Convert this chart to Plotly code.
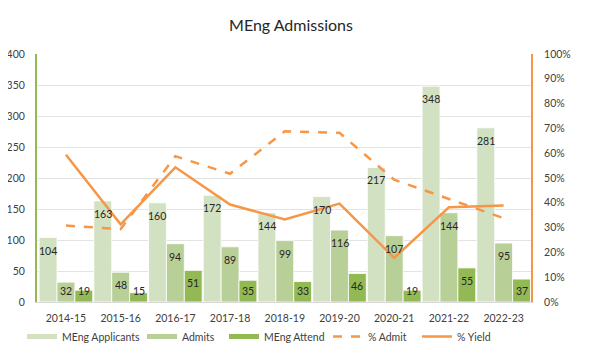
import plotly.graph_objects as go

years = ["2014-15", "2015-16", "2016-17", "2017-18", "2018-19",
         "2019-20", "2020-21", "2021-22", "2022-23"]
applicants = [104, 163, 160, 172, 144, 170, 217, 348, 281]
admits = [32, 48, 94, 89, 99, 116, 107, 144, 95]
attend = [19, 15, 51, 35, 33, 46, 19, 55, 37]
pct_admit = [30.8, 29.4, 58.8, 51.7, 68.8, 68.2, 49.3, 41.4, 33.8]
pct_yield = [59.4, 31.3, 54.3, 39.3, 33.3, 39.7, 17.8, 38.2, 38.9]

FONT = "Lato, 'Open Sans', sans-serif"
TXT = "#404040"
ORANGE = "#f79646"
COLS = ["#d3e1c3", "#b9cf98", "#93b954"]

# page has an 8px body margin, so the figure is drawn 8px smaller
W, H = 586, 347
ML, MR, MT, MB = 29, 63, 46, 53
BARGAP = 0.02
plot_w = W - ML - MR
cat_w = plot_w / len(years)
bar_w = cat_w * (1 - BARGAP) / 3

fig = go.Figure()
series = [("MEng Applicants", applicants), ("Admits", admits), ("MEng Attend", attend)]
for (name, vals), col in zip(series, COLS):
    fig.add_trace(go.Bar(x=years, y=vals, name=name, showlegend=False,
                         marker=dict(color=col, line=dict(color="white", width=0.8))))

fig.add_trace(go.Scatter(x=years, y=pct_admit, name="% Admit", yaxis="y2", mode="lines",
                         showlegend=False, line=dict(color=ORANGE, width=2.5, dash="dash")))
fig.add_trace(go.Scatter(x=years, y=pct_yield, name="% Yield", yaxis="y2", mode="lines",
                         showlegend=False, line=dict(color=ORANGE, width=2.5)))

# bar value labels (inside end, as in the original)
for k, ((name, vals), col) in enumerate(zip(series, COLS)):
    for yr, v in zip(years, vals):
        fig.add_annotation(x=yr, y=max(v, 38), xref="x", yref="y", text=str(v),
                           showarrow=False, yanchor="top", yshift=-5,
                           xshift=(k - 1) * bar_w,
                           font=dict(size=10.5, color="#262626", family=FONT))

# legend entries, each in its own legend so they can be spaced like the original
legend_items = [("MEng Applicants", dict(color=COLS[0], width=5)),
                ("Admits", dict(color=COLS[1], width=5)),
                ("MEng Attend", dict(color=COLS[2], width=5)),
                ("% Admit", dict(color=ORANGE, width=2.5, dash="dash")),
                ("% Yield", dict(color=ORANGE, width=2.5))]
text_starts = [54, 174, 256, 360, 449]
legend_ids = ["legend", "legend2", "legend3", "legend4", "legend5"]
for (name, ln), lid in zip(legend_items, legend_ids):
    fig.add_trace(go.Scatter(x=[None], y=[None], mode="lines", name=name, line=ln,
                             legend=lid, showlegend=True))

layout_legends = {}
for lid, xs in zip(legend_ids, text_starts):
    layout_legends[lid] = dict(orientation="h", xref="container", yref="container",
                               x=(xs - 40) / W, xanchor="left", y=1 - 314 / H, yanchor="top",
                               font=dict(size=10.5, color=TXT, family=FONT), itemwidth=30,
                               bgcolor="rgba(0,0,0,0)")

fig.update_layout(
    width=W, height=H,
    margin=dict(l=ML, r=MR, t=MT, b=MB, autoexpand=False),
    paper_bgcolor="white", plot_bgcolor="white",
    font=dict(family=FONT, size=10.5, color=TXT),
    title=dict(text="MEng Admissions", x=283 / W, xanchor="center", y=1 - 12 / H, yanchor="top",
               font=dict(size=16, color="#262626", family=FONT)),
    barmode="group", bargap=BARGAP, bargroupgap=0.0,
    showlegend=True,
    xaxis=dict(showgrid=False, ticks="", tickfont=dict(size=10.5, color=TXT),
               showline=True, linecolor="#d9d9d9", linewidth=1, ticklabelstandoff=6),
    yaxis=dict(range=[0, 400], dtick=50, showgrid=True, gridcolor="#e3e3e3", gridwidth=1,
               showline=True, linecolor="#93b954", linewidth=2, zeroline=False,
               tickfont=dict(size=10.5, color=TXT), ticks="", ticklabelstandoff=8),
    yaxis2=dict(range=[0, 100], dtick=10, ticksuffix="%", overlaying="y", side="right",
                showgrid=False, showline=True, linecolor=ORANGE, linewidth=2, zeroline=False,
                tickfont=dict(size=10.5, color=TXT), ticks="", ticklabelstandoff=9),
    **layout_legends,
)

fig.write_html("out.html")
